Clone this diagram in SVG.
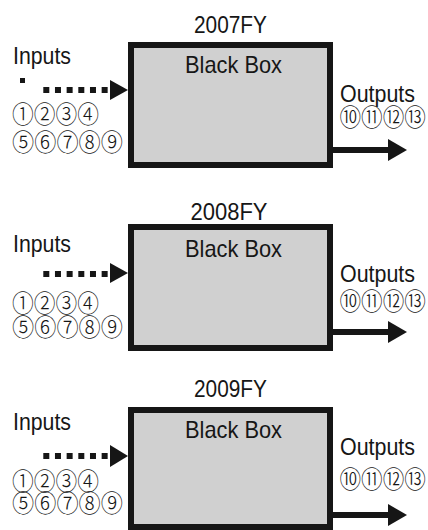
<svg xmlns="http://www.w3.org/2000/svg" width="428" height="530" viewBox="0 0 428 530">
<style>
.box{fill:#d0d0d0;stroke:#161616;stroke-width:6}
.t{font-family:"Liberation Sans",Arial,sans-serif;font-size:24px;fill:#161616}
.c{font-family:"Noto Sans CJK JP","Noto Sans CJK SC",sans-serif;font-size:24px;font-weight:300;fill:#161616}
.dash{stroke:#161616;stroke-width:6;stroke-dasharray:6 5.67;fill:none}
.line{stroke:#161616;stroke-width:6;fill:none}
.head{fill:#161616}
</style>
<rect width="428" height="530" fill="#ffffff"/>
<g id="fy2007">
<text class="t" x="230.5" y="33" text-anchor="middle" textLength="73" lengthAdjust="spacingAndGlyphs">2007FY</text>
<rect class="box" x="131" y="45" width="199" height="120"/>
<text class="t" x="233.5" y="73" text-anchor="middle" textLength="97" lengthAdjust="spacingAndGlyphs">Black Box</text>
<text class="t" x="13" y="64" textLength="58" lengthAdjust="spacingAndGlyphs">Inputs</text>
<rect x="20" y="78" width="5" height="5" fill="#161616"/>
<text class="c" x="12" y="122.6" textLength="87" lengthAdjust="spacingAndGlyphs">①②③④</text>
<text class="c" x="12" y="150.6" textLength="111" lengthAdjust="spacingAndGlyphs">⑤⑥⑦⑧⑨</text>
<text class="t" x="340" y="102" textLength="75" lengthAdjust="spacingAndGlyphs">Outputs</text>
<text class="c" x="339.5" y="125.5" textLength="86.5" lengthAdjust="spacingAndGlyphs">⑩⑪⑫⑬</text>
</g>
<g id="fy2008">
<text class="t" x="229" y="220" text-anchor="middle" textLength="77" lengthAdjust="spacingAndGlyphs">2008FY</text>
<rect class="box" x="131" y="227" width="199" height="121"/>
<text class="t" x="233.5" y="257" text-anchor="middle" textLength="97" lengthAdjust="spacingAndGlyphs">Black Box</text>
<text class="t" x="13" y="252" textLength="58" lengthAdjust="spacingAndGlyphs">Inputs</text>
<text class="c" x="12" y="311.6" textLength="87" lengthAdjust="spacingAndGlyphs">①②③④</text>
<text class="c" x="12" y="335.6" textLength="111" lengthAdjust="spacingAndGlyphs">⑤⑥⑦⑧⑨</text>
<text class="t" x="340" y="282" textLength="75" lengthAdjust="spacingAndGlyphs">Outputs</text>
<text class="c" x="339.5" y="309.6" textLength="86.5" lengthAdjust="spacingAndGlyphs">⑩⑪⑫⑬</text>
</g>
<g id="fy2009">
<text class="t" x="230.5" y="397" text-anchor="middle" textLength="73" lengthAdjust="spacingAndGlyphs">2009FY</text>
<rect class="box" x="131" y="410" width="199" height="117"/>
<text class="t" x="233.5" y="438" text-anchor="middle" textLength="97" lengthAdjust="spacingAndGlyphs">Black Box</text>
<text class="t" x="13" y="430" textLength="58" lengthAdjust="spacingAndGlyphs">Inputs</text>
<text class="c" x="12" y="489.6" textLength="87" lengthAdjust="spacingAndGlyphs">①②③④</text>
<text class="c" x="12" y="512" textLength="111" lengthAdjust="spacingAndGlyphs">⑤⑥⑦⑧⑨</text>
<text class="t" x="340" y="455" textLength="75" lengthAdjust="spacingAndGlyphs">Outputs</text>
<text class="c" x="339.5" y="487.6" textLength="86.5" lengthAdjust="spacingAndGlyphs">⑩⑪⑫⑬</text>
</g>
<g id="connectors">
<line class="dash" x1="43.3" y1="90" x2="110" y2="90"/>
<polygon class="head" points="110,80 128,90 110,100"/>
<line class="line" x1="333" y1="150" x2="390" y2="150"/>
<polygon class="head" points="388,139 407,150 388,161"/>
<line class="dash" x1="43.3" y1="274" x2="110" y2="274"/>
<polygon class="head" points="110,263 128,273 110,283"/>
<line class="line" x1="333" y1="332" x2="390" y2="332"/>
<polygon class="head" points="388,321 407,332 388,343"/>
<line class="dash" x1="43.3" y1="456" x2="110" y2="456"/>
<polygon class="head" points="110,445 128,456 110,467"/>
<line class="line" x1="333" y1="515" x2="390" y2="515"/>
<polygon class="head" points="388,504 407,515 388,526"/>
</g>
</svg>
